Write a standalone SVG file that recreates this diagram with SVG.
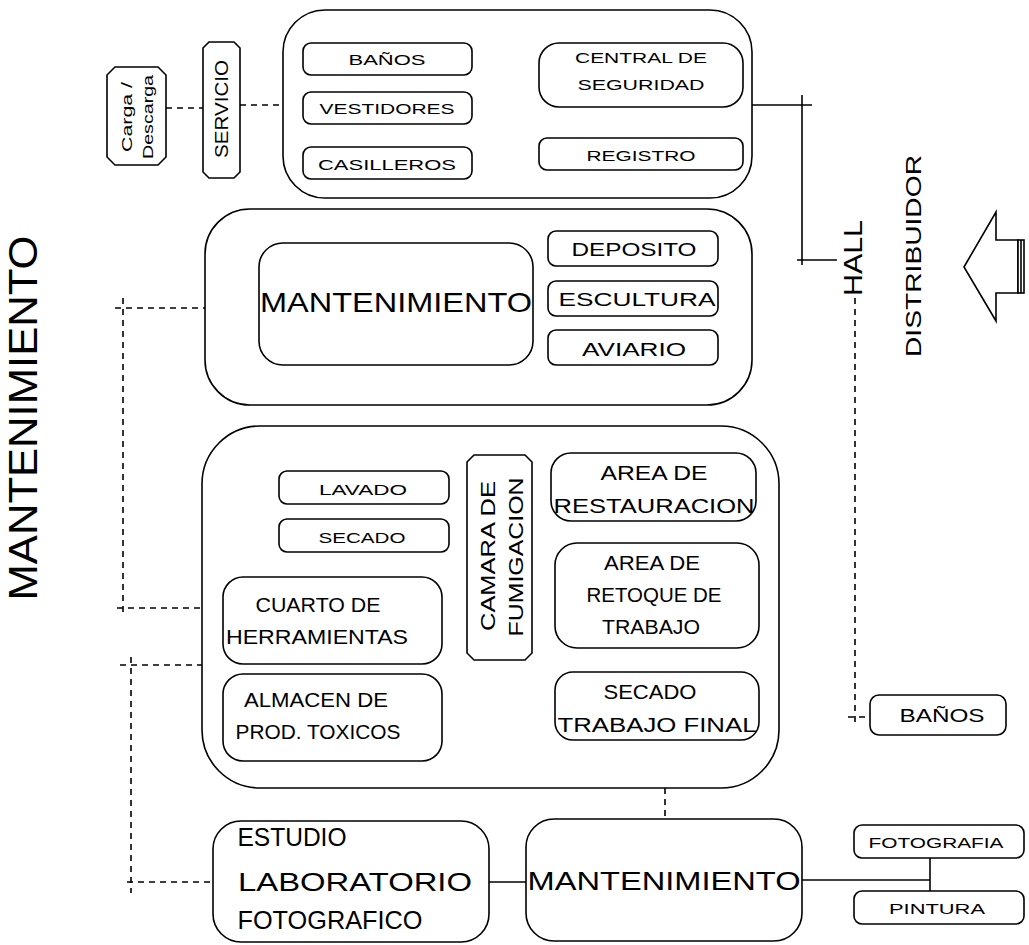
<svg xmlns="http://www.w3.org/2000/svg" width="1029" height="945" viewBox="0 0 1029 945">
  <style>
    .box { fill: #fff; stroke: #000; stroke-width: 1.6; }
    .ln { fill: none; stroke: #000; stroke-width: 1.6; }
    .dash { fill: none; stroke: #000; stroke-width: 1.6; stroke-dasharray: 6 5; }
    text { font-family: "Liberation Sans", "DejaVu Sans", sans-serif; fill: #000; text-anchor: middle; }
    .s15 { font-size: 15px; }
    .s18 { font-size: 18px; }
    .s20 { font-size: 20px; }
    .s22 { font-size: 22px; }
    .s26 { font-size: 26px; }
    .s28 { font-size: 28px; }
    .big { font-size: 40px; }
  </style>

  <!-- connectors -->
  <g id="connectors">
    <!-- carga / servicio / service block -->
    <line class="dash" x1="166" y1="108" x2="203" y2="108"/>
    <line class="dash" x1="240" y1="105" x2="283" y2="105"/>
    <!-- service block to hall -->
    <line class="ln" x1="752" y1="105" x2="812" y2="105"/>
    <line class="ln" x1="802" y1="95" x2="802" y2="265"/>
    <line class="ln" x1="797" y1="260" x2="837" y2="260"/>
    <!-- hall to baños -->
    <line class="dash" x1="855" y1="298" x2="855" y2="724"/>
    <line class="dash" x1="848" y1="717" x2="870" y2="717"/>
    <!-- left service corridor, upper -->
    <line class="dash" x1="115" y1="308" x2="205" y2="308"/>
    <line class="dash" x1="123" y1="298" x2="123" y2="615"/>
    <line class="dash" x1="117" y1="608" x2="203" y2="608"/>
    <!-- left service corridor, lower -->
    <line class="dash" x1="120" y1="665" x2="202" y2="665"/>
    <line class="dash" x1="131" y1="657" x2="131" y2="893"/>
    <line class="dash" x1="127" y1="882" x2="213" y2="882"/>
    <!-- bottom row -->
    <line class="ln" x1="489" y1="882" x2="526" y2="882"/>
    <line class="dash" x1="665" y1="788" x2="665" y2="819"/>
    <line class="ln" x1="802" y1="880" x2="930" y2="880"/>
    <line class="ln" x1="930" y1="858" x2="930" y2="891"/>
  </g>

  <!-- side labels -->
  <text class="big" transform="rotate(-90 23 418)" x="23" y="432" textLength="365" lengthAdjust="spacingAndGlyphs">MANTENIMIENTO</text>
  <text class="s26" transform="rotate(-90 862 258)" x="862" y="258" textLength="76" lengthAdjust="spacingAndGlyphs">HALL</text>
  <text class="s22" transform="rotate(-90 921 256)" x="921" y="256" textLength="202" lengthAdjust="spacingAndGlyphs">DISTRIBUIDOR</text>

  <!-- entry arrow -->
  <g id="entrada">
    <path class="box" d="M964 267 L996 212 L996 240 L1018 240 L1018 293 L996 293 L996 321 Z"/>
    <rect class="box" x="1018" y="240" width="6" height="53"/>
    <line class="ln" x1="1021" y1="240" x2="1021" y2="293"/>
  </g>

  <!-- carga / descarga -->
  <g id="carga">
    <path class="box" d="M115 67 L158 67 L166 75 L166 157 L158 165 L115 165 L107 157 L107 75 Z"/>
    <text class="s15" transform="rotate(-90 132 117)" x="132" y="117" textLength="70" lengthAdjust="spacingAndGlyphs">Carga /</text>
    <text class="s15" transform="rotate(-90 153 117)" x="153" y="117" textLength="84" lengthAdjust="spacingAndGlyphs">Descarga</text>
  </g>

  <!-- servicio -->
  <g id="servicio">
    <path class="box" d="M209 42 L234 42 L240 48 L240 172 L234 178 L209 178 L203 172 L203 48 Z"/>
    <text class="s18" transform="rotate(-90 228 109)" x="228" y="109" textLength="98" lengthAdjust="spacingAndGlyphs">SERVICIO</text>
  </g>

  <!-- service block -->
  <g id="bloque-servicios">
    <rect class="box" x="283" y="10" width="469" height="188" rx="42" ry="42"/>
    <rect class="box" x="303" y="43" width="169" height="32" rx="8"/>
    <text class="s15" x="387" y="65" textLength="77" lengthAdjust="spacingAndGlyphs">BAÑOS</text>
    <rect class="box" x="303" y="92" width="169" height="32" rx="8"/>
    <text class="s15" x="387" y="114" textLength="135" lengthAdjust="spacingAndGlyphs">VESTIDORES</text>
    <rect class="box" x="303" y="147" width="169" height="32" rx="8"/>
    <text class="s15" x="387" y="170" textLength="138" lengthAdjust="spacingAndGlyphs">CASILLEROS</text>
    <rect class="box" x="539" y="43" width="204" height="64" rx="20"/>
    <text class="s15" x="641" y="63" textLength="132" lengthAdjust="spacingAndGlyphs">CENTRAL DE</text>
    <text class="s15" x="641" y="90" textLength="127" lengthAdjust="spacingAndGlyphs">SEGURIDAD</text>
    <rect class="box" x="539" y="138" width="204" height="32" rx="8"/>
    <text class="s15" x="641" y="161" textLength="109" lengthAdjust="spacingAndGlyphs">REGISTRO</text>
  </g>

  <!-- maintenance / storage block -->
  <g id="bloque-mantenimiento">
    <rect class="box" x="205" y="209" width="547" height="196" rx="45" ry="45"/>
    <rect class="box" x="259" y="243" width="274" height="122" rx="24"/>
    <text class="s28" x="396" y="312" textLength="272" lengthAdjust="spacingAndGlyphs">MANTENIMIENTO</text>
    <rect class="box" x="548" y="231" width="170" height="35" rx="8"/>
    <text class="s18" x="634" y="256" textLength="125" lengthAdjust="spacingAndGlyphs">DEPOSITO</text>
    <rect class="box" x="548" y="281" width="170" height="35" rx="8"/>
    <text class="s18" x="637" y="306" textLength="157" lengthAdjust="spacingAndGlyphs">ESCULTURA</text>
    <rect class="box" x="548" y="330" width="170" height="35" rx="8"/>
    <text class="s18" x="634" y="356" textLength="104" lengthAdjust="spacingAndGlyphs">AVIARIO</text>
  </g>

  <!-- restoration block -->
  <g id="bloque-restauracion">
    <rect class="box" x="202" y="426" width="577" height="362" rx="58" ry="58"/>
    <rect class="box" x="279" y="471" width="170" height="33" rx="8"/>
    <text class="s15" x="363" y="495" textLength="88" lengthAdjust="spacingAndGlyphs">LAVADO</text>
    <rect class="box" x="279" y="519" width="170" height="33" rx="8"/>
    <text class="s15" x="362" y="543" textLength="87" lengthAdjust="spacingAndGlyphs">SECADO</text>
    <rect class="box" x="223" y="577" width="219" height="87" rx="20"/>
    <text class="s20" x="318" y="612" textLength="125" lengthAdjust="spacingAndGlyphs">CUARTO DE</text>
    <text class="s20" x="317" y="644" textLength="182" lengthAdjust="spacingAndGlyphs">HERRAMIENTAS</text>
    <rect class="box" x="223" y="674" width="219" height="87" rx="20"/>
    <text class="s20" x="316" y="707" textLength="144" lengthAdjust="spacingAndGlyphs">ALMACEN DE</text>
    <text class="s20" x="318" y="739" textLength="165" lengthAdjust="spacingAndGlyphs">PROD. TOXICOS</text>
    <path class="box" d="M474 455 L525 455 L532 462 L532 653 L525 660 L474 660 L467 653 L467 462 Z"/>
    <text class="s20" transform="rotate(-90 495 556)" x="495" y="556" textLength="150" lengthAdjust="spacingAndGlyphs">CAMARA DE</text>
    <text class="s20" transform="rotate(-90 523 557)" x="523" y="557" textLength="159" lengthAdjust="spacingAndGlyphs">FUMIGACION</text>
    <rect class="box" x="551" y="453" width="205" height="68" rx="20"/>
    <text class="s20" x="654" y="480" textLength="107" lengthAdjust="spacingAndGlyphs">AREA DE</text>
    <text class="s20" x="654" y="513" textLength="201" lengthAdjust="spacingAndGlyphs">RESTAURACION</text>
    <rect class="box" x="555" y="543" width="204" height="105" rx="22"/>
    <text class="s20" x="652" y="570" textLength="96" lengthAdjust="spacingAndGlyphs">AREA DE</text>
    <text class="s20" x="654" y="602" textLength="135" lengthAdjust="spacingAndGlyphs">RETOQUE DE</text>
    <text class="s20" x="651" y="634" textLength="98" lengthAdjust="spacingAndGlyphs">TRABAJO</text>
    <rect class="box" x="555" y="672" width="204" height="68" rx="18"/>
    <text class="s20" x="650" y="699" textLength="93" lengthAdjust="spacingAndGlyphs">SECADO</text>
    <text class="s20" x="657" y="732" textLength="199" lengthAdjust="spacingAndGlyphs">TRABAJO FINAL</text>
  </g>

  <!-- baños -->
  <g id="banos">
    <rect class="box" x="870" y="695" width="136" height="40" rx="9"/>
    <text class="s18" x="942" y="722" textLength="85" lengthAdjust="spacingAndGlyphs">BAÑOS</text>
  </g>

  <!-- studio -->
  <g id="estudio">
    <rect class="box" x="213" y="821" width="276" height="121" rx="28"/>
    <text class="s26" x="292" y="846" textLength="109" lengthAdjust="spacingAndGlyphs">ESTUDIO</text>
    <text class="s26" x="355" y="891" textLength="234" lengthAdjust="spacingAndGlyphs">LABORATORIO</text>
    <text class="s26" x="330" y="929" textLength="185" lengthAdjust="spacingAndGlyphs">FOTOGRAFICO</text>
  </g>

  <!-- lower maintenance -->
  <g id="mantenimiento-inferior">
    <rect class="box" x="526" y="819" width="276" height="122" rx="28"/>
    <text class="s26" x="664" y="890" textLength="273" lengthAdjust="spacingAndGlyphs">MANTENIMIENTO</text>
  </g>

  <!-- fotografia -->
  <g id="fotografia">
    <rect class="box" x="854" y="825" width="170" height="33" rx="8"/>
    <text class="s15" x="936" y="848" textLength="135" lengthAdjust="spacingAndGlyphs">FOTOGRAFIA</text>
  </g>

  <!-- pintura -->
  <g id="pintura">
    <rect class="box" x="854" y="891" width="170" height="33" rx="8"/>
    <text class="s15" x="937" y="914" textLength="96" lengthAdjust="spacingAndGlyphs">PINTURA</text>
  </g>
</svg>
